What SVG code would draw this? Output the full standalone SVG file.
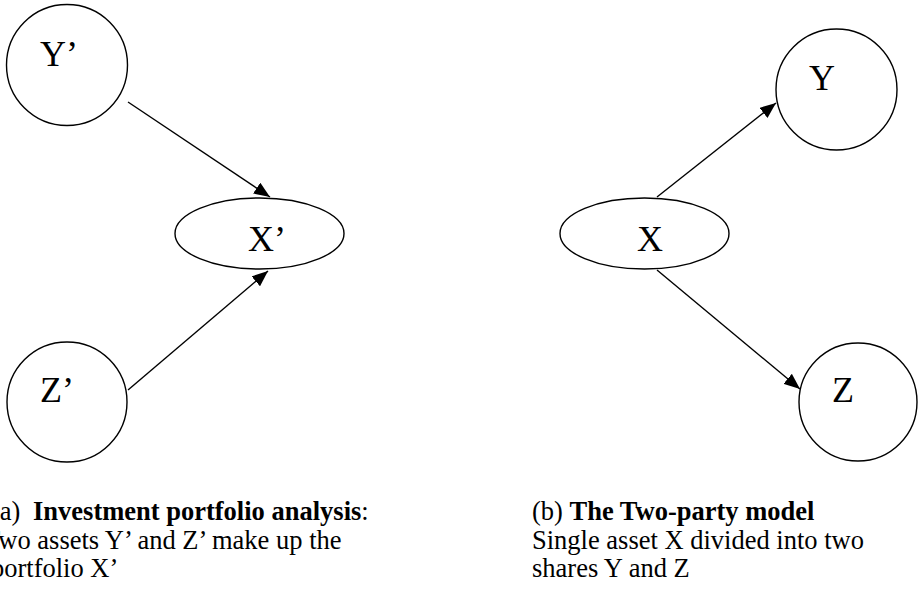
<svg xmlns="http://www.w3.org/2000/svg" width="918" height="589" viewBox="0 0 918 589">
<style>
.node{fill:#fff;stroke:#000;stroke-width:1.4}
.lbl{font-family:"Liberation Serif","Times New Roman",serif;font-size:36px;fill:#000}
.edge{stroke:#000;stroke-width:1.4;fill:none;marker-end:url(#ah)}
.cap{font-family:"Liberation Serif","Times New Roman",serif;font-size:26.5px;fill:#000}
.b{font-weight:bold}
</style>
<defs>
<marker id="ah" markerUnits="userSpaceOnUse" markerWidth="17" markerHeight="13" refX="16" refY="6.5" orient="auto">
<path d="M0,0 L16,6.5 L0,13 z" fill="#000"/>
</marker>
</defs>
<rect width="918" height="589" fill="#fff"/>
<g id="edges">
<line class="edge" x1="128" y1="102" x2="270" y2="197"/>
<line class="edge" x1="128" y1="390" x2="268" y2="271"/>
<line class="edge" x1="657" y1="197" x2="776" y2="103"/>
<line class="edge" x1="657" y1="270" x2="800" y2="389"/>
</g>
<g id="node-Yp"><circle class="node" cx="67" cy="65" r="60.5"/><text class="lbl" x="40" y="66">Y’</text></g>
<g id="node-Zp"><circle class="node" cx="67" cy="402" r="60"/><text class="lbl" x="40" y="402">Z’</text></g>
<g id="node-Xp"><ellipse class="node" cx="259.5" cy="233.5" rx="84.5" ry="35.5"/><text class="lbl" x="248" y="251">X’</text></g>
<g id="node-X"><ellipse class="node" cx="644.5" cy="233.5" rx="84.5" ry="35.5"/><text class="lbl" x="637" y="251">X</text></g>
<g id="node-Y"><circle class="node" cx="836.5" cy="89.5" r="60.5"/><text class="lbl" x="809" y="90">Y</text></g>
<g id="node-Z"><circle class="node" cx="858" cy="402" r="59"/><text class="lbl" x="832" y="402">Z</text></g>
<g id="caption-a">
<text class="cap" x="-9" y="520">(a)<tspan class="b" x="33">Investment portfolio analysis</tspan>:</text>
<text class="cap" x="-16" y="549">Two assets Y’ and Z’ make up the</text>
<text class="cap" x="-9" y="577">portfolio X’</text>
</g>
<g id="caption-b">
<text class="cap" x="532" y="520">(b) <tspan class="b">The Two-party model</tspan></text>
<text class="cap" x="532" y="549">Single asset X divided into two</text>
<text class="cap" x="532" y="577">shares Y and Z</text>
</g>
</svg>
